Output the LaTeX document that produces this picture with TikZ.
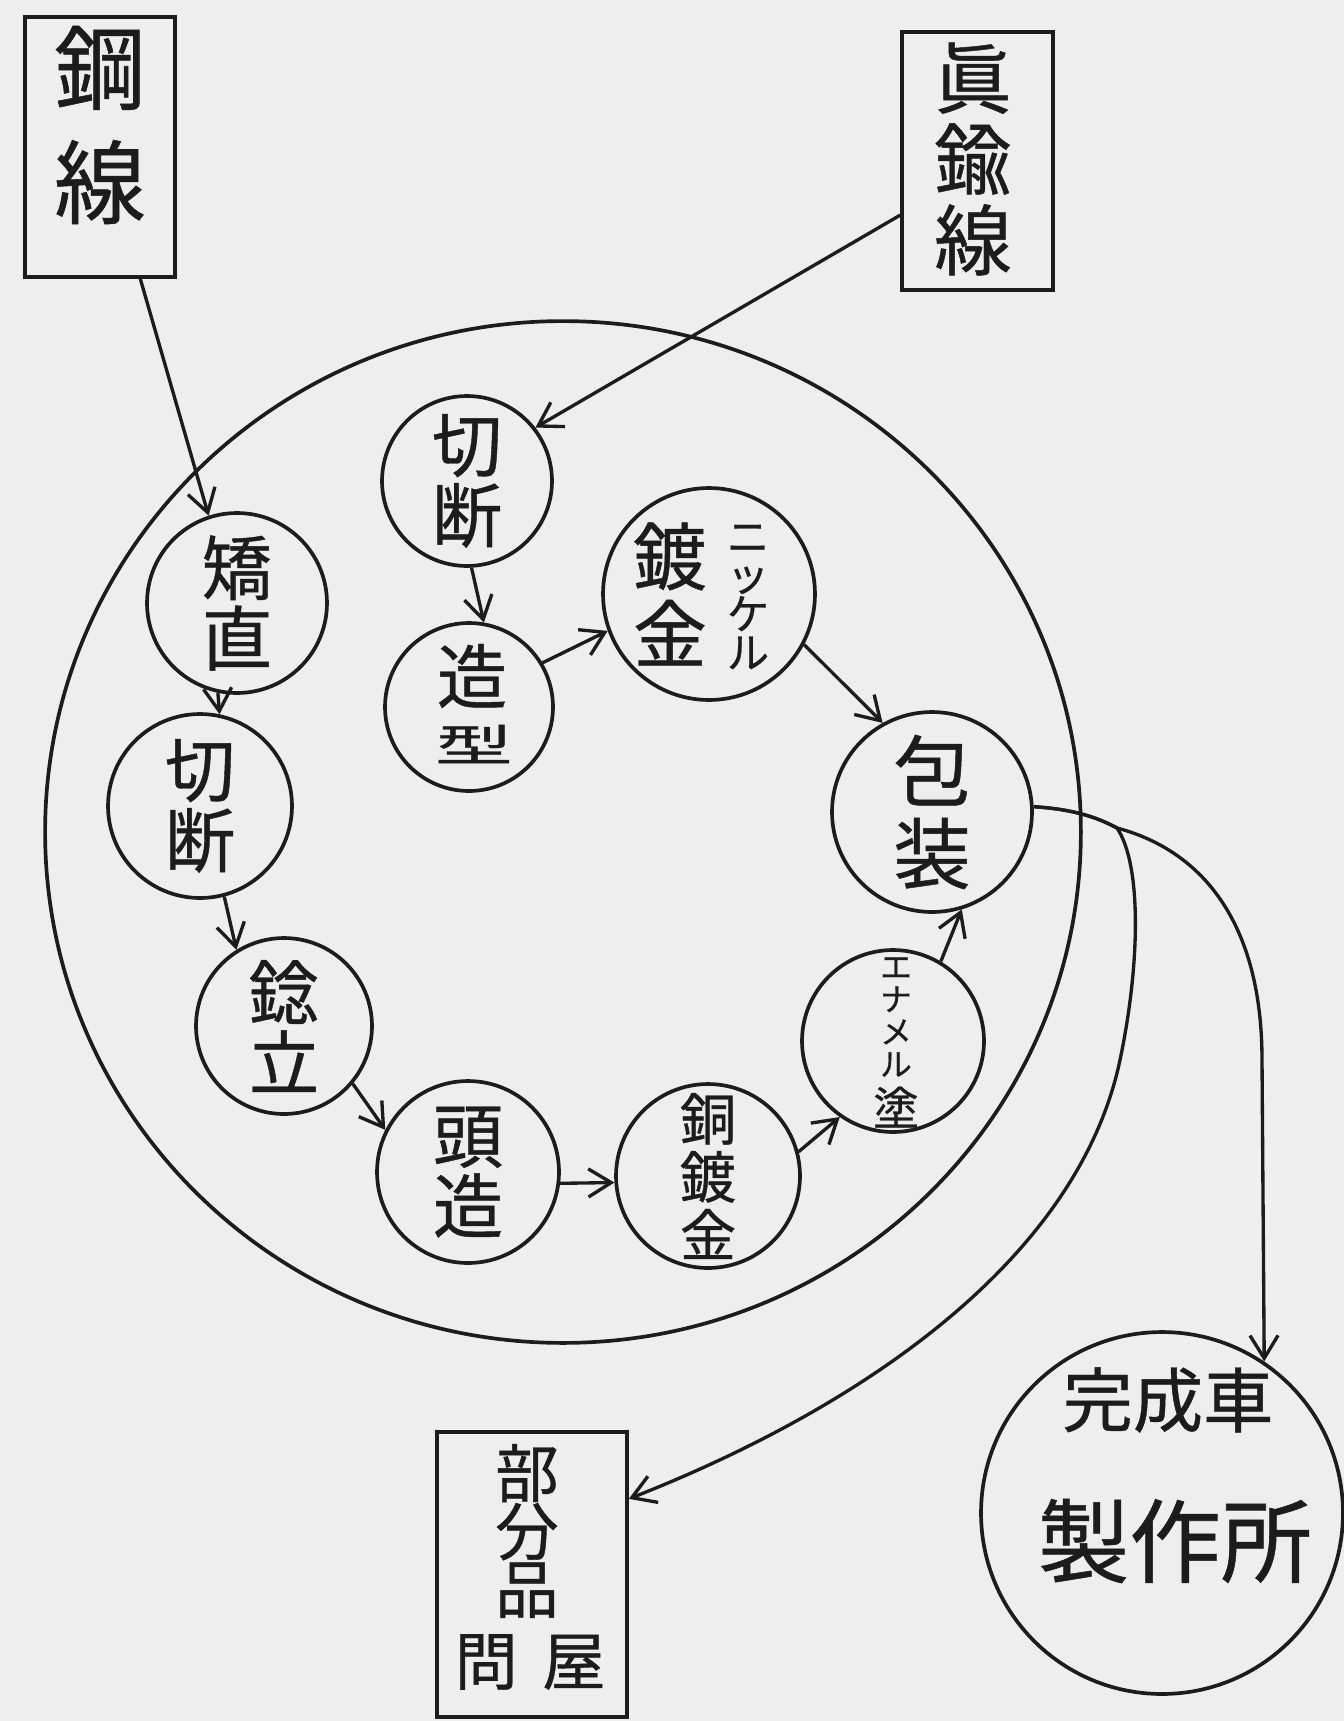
\documentclass[tikz,border=0pt]{standalone}
\usepackage{graphicx}
\usepackage{fontspec}
\setmainfont{Noto Sans CJK JP}[FakeBold=0.6]
\usetikzlibrary{arrows.meta,shapes.geometric}
\definecolor{paper}{HTML}{EEEEEE}
\definecolor{ink}{HTML}{1C1C1C}
\newcommand{\fsz}[2]{\fontsize{#1}{#2}\selectfont}
\begin{document}
\begin{tikzpicture}[x=0.02cm,y=-0.02cm,
  every node/.style={text=ink},
  proc/.style={circle,draw=ink,line width=2.1pt,inner sep=0pt,align=center},
  srcbox/.style={rectangle,draw=ink,line width=2.1pt,inner sep=0pt,align=center},
  ring/.style={ellipse,draw=ink,line width=2.1pt,inner sep=0pt},
  lbl/.style={inner sep=0pt,align=center},
  flow/.style={draw=ink,line width=1.9pt,-{Straight Barb[length=13pt,width=16pt]}}
]
\fill[paper] (0,0) rectangle (1344,1721);
\useasboundingbox (0,0) rectangle (1344,1721);

% source boxes
\node[srcbox,minimum width=3cm,minimum height=5.2cm] (kou) at (100,147) {};
\node[lbl,font=\fsz{52}{65}] (kout) at (100,125) {鋼\\線};
\node[srcbox,minimum width=3.02cm,minimum height=5.16cm] (shin) at (977.5,161) {};
\node[lbl,font=\fsz{44}{46}] (shint) at (973,159) {眞\\鍮\\線};

% big ring
\node[ring,minimum width=20.72cm,minimum height=20.44cm] (ring) at (563,832) {};

% process circles
\node[proc,minimum size=3.4cm,font=\fsz{40}{40}] (kiriT) at (467,481) {切\\断};
\node[proc,minimum size=3.36cm] (zou) at (469,707) {};
\node[lbl,font=\fsz{40}{40}] (zoua) at (472,676) {造};
\node[lbl,font=\fsz{40}{40}] (zoub) at (474,744) {\scalebox{1.1}[0.62]{型}};
\node[proc,minimum size=4.24cm] (nic) at (709,594) {};
\node[lbl,font=\fsz{42}{44}] (nica) at (670,594) {鍍\\金};
\node[lbl,font=\fsz{24}{22}] (nicb) at (748,597) {ニ\\ッ\\ケ\\ル};
\node[proc,minimum size=4.0cm,font=\fsz{44}{47}] (hou) at (932,812) {包\\装};
\node[proc,minimum size=3.64cm] (ena) at (893,1041) {};
\node[lbl,font=\fsz{18}{18.5}] (enak) at (896,1017) {エ\\ナ\\メ\\ル};
\node[lbl,font=\fsz{26}{26}] (enan) at (896,1107) {塗};
\node[proc,minimum size=3.68cm,font=\fsz{32}{33}] (dou) at (708,1176) {銅\\鍍\\金};
\node[proc,minimum size=3.64cm,font=\fsz{40}{40}] (tou) at (468,1172) {頭\\造};
\node[proc,minimum size=3.52cm,font=\fsz{40}{40}] (neji) at (284,1026) {錜\\立};
\node[proc,minimum size=3.68cm,font=\fsz{40}{40}] (kiriL) at (200,806) {切\\断};
\node[proc,minimum size=3.6cm,font=\fsz{40}{40}] (kyou) at (237,603) {矯\\直};

% destinations
\node[proc,minimum size=7.24cm] (sei) at (1162,1513) {};
\node[lbl,font=\fsz{40}{40}] (seia) at (1168,1400) {完成車};
\node[lbl,font=\fsz{52}{52}] (seib) at (1175,1541) {製作所};
\node[srcbox,minimum width=3.8cm,minimum height=5.7cm] (buhin) at (532,1574.5) {};
\node[lbl,font=\fsz{36}{33}] (buhina) at (527,1531) {部\\分\\品};
\node[lbl,font=\fsz{36}{36}] (buhinb) at (530,1662) {問\hspace{14pt}屋};

% flows
\draw[flow] (kou.-73) -- (kyou.108);
\draw[flow] (shin.215) -- (kiriT.38);
\draw[flow] (kyou.258) -- (kiriL.78);
\draw[flow] (kiriL.-75) -- (neji.122);
\draw[flow] (neji.-40) -- (tou.153);
\draw[flow] (tou.-7) -- (dou.184);
\draw[flow] (dou.15) -- (ena.235);
\draw[flow] (ena.59) -- (hou.-73);
\draw[flow] (nic.-28) -- (hou.119);
\draw[flow] (zou.31) -- (nic.200);
\draw[flow] (kiriT.-87) -- (zou.80);

\coordinate (split) at (1117,828);
\draw[flow] (hou.3) .. controls (1070,809) and (1095,816) .. (split)
  .. controls (1200,850) and (1262,920) .. (1262,1060) -- (sei.56.5);
\draw[flow] (hou.3) .. controls (1070,809) and (1095,816) .. (split)
  .. controls (1142,865) and (1140,965) .. (1120,1060)
  .. controls (1080,1250) and (880,1400) .. (buhin.38);
\end{tikzpicture}
\end{document}
